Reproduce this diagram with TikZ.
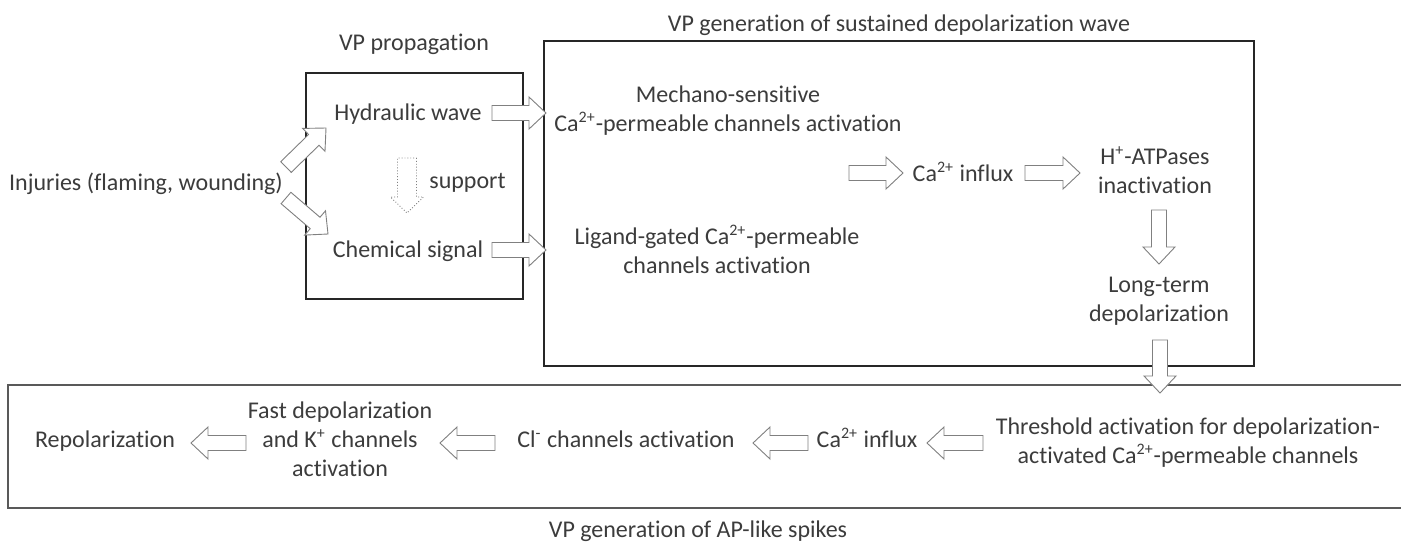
\documentclass[tikz,border=0pt]{standalone}
\usepackage{fontspec}
\setmainfont{Carlito}[Ligatures={NoCommon}]
\usetikzlibrary{calc}
\definecolor{txtgray}{RGB}{60,60,60}
\definecolor{arrgray}{RGB}{128,128,128}

% block arrow sizes (half shaft, half head, head length)
\newcommand{\arrshaft}{3.75pt}
\newcommand{\arrhead}{8pt}
\newcommand{\arrtip}{8.5pt}
% hollow block arrow from #2 (tail) to #3 (tip)
\newcommand{\fatarrow}[3][]{%
  \coordinate (fa-base) at ($(#3)!\arrtip!(#2)$);
  \draw[blockarrow,#1] ($(#2)!\arrshaft!90:(#3)$) -- ($(fa-base)!\arrshaft!-90:(#2)$)
    -- ($(fa-base)!\arrhead!-90:(#2)$) -- (#3) -- ($(fa-base)!\arrhead!90:(#2)$)
    -- ($(fa-base)!\arrshaft!90:(#2)$) -- ($(#2)!\arrshaft!-90:(#3)$) -- cycle;
}

\begin{document}
\begin{tikzpicture}[x=0.5pt, y=-0.5pt,
    font=\fontsize{12pt}{14.5pt}\selectfont,
    lbl/.style={inner sep=0pt, align=center, text=txtgray, anchor=base},
    stagebox/.style={draw=black!85, line width=0.6pt},
    spikebox/.style={draw=black!65, line width=1pt},
    blockarrow/.style={draw=arrgray, line width=0.45pt, fill=white, line join=miter},
    supportarrow/.style={densely dotted, draw=arrgray}]

    \useasboundingbox[fill=white] (0,0) rectangle (1401,542);

    % Stage boxes
    \draw[stagebox] (306,73) rectangle (523,299);
    \draw[stagebox] (544,41) rectangle (1254,366);
    \draw[spikebox] (1401,385) -- (8,385) -- (8,508) -- (1401,508);

    % Titles
    \node[lbl] (t-prop) at (414,50) {VP propagation};
    \node[lbl] (t-wave) at (899,31) {VP generation of sustained depolarization wave};
    \node[lbl] (t-spike) at (698,537) {VP generation of AP-like spikes};

    % Propagation (base = last line)
    \node[lbl] (inj) at (146,190) {Injuries (flaming, wounding)};
    \node[lbl] (hyd) at (408,120) {Hydraulic wave};
    \node[lbl] (chem) at (408,257) {Chemical signal};
    \node[lbl, anchor=base west] (sup) at (429,188) {support};

    % Sustained depolarization wave
    \node[lbl] (mech) at (728,131) {Mechano-sensitive\\Ca\textsuperscript{2+}-permeable channels activation};
    \node[lbl] (lig) at (717,273) {Ligand-gated Ca\textsuperscript{2+}-permeable\\channels activation};
    \node[lbl] (ca-a) at (963,181) {Ca\textsuperscript{2+} influx};
    \node[lbl] (hatp) at (1155,193) {H\textsuperscript{+}-ATPases\\inactivation};
    \node[lbl] (ltd) at (1159,321) {Long-term\\depolarization};

    % AP-like spikes
    \node[lbl] (thr) at (1188,463) {Threshold activation for depolarization-\\activated Ca\textsuperscript{2+}-permeable channels};
    \node[lbl] (ca-b) at (867,447) {Ca\textsuperscript{2+} influx};
    \node[lbl] (cl) at (626,447) {Cl\textsuperscript{-} channels activation};
    \node[lbl] (fast) at (340,476) {Fast depolarization\\and K\textsuperscript{+} channels\\activation};
    \node[lbl] (repol) at (105,447) {Repolarization};

    % Arrow ends
    \coordinate (inj-a) at (286,167);   \coordinate (inj-b) at (326,128);
    \coordinate (inj-c) at (286,198);   \coordinate (inj-d) at (328,234);
    \coordinate (hyd-a) at (492,113);   \coordinate (hyd-b) at (546,113);
    \coordinate (chem-a) at (492,250);  \coordinate (chem-b) at (546,250);
    \coordinate (sup-a) at (407,158);   \coordinate (sup-b) at (407,213);
    \coordinate (ch-a) at (849,173);    \coordinate (ch-b) at (903,173);
    \coordinate (ca-a1) at (1025,173);  \coordinate (ca-a2) at (1080,173);
    \coordinate (hatp-a) at (1159,210); \coordinate (hatp-b) at (1159,264);
    \coordinate (ltd-a) at (1160,340);  \coordinate (ltd-b) at (1160,393);
    \coordinate (thr-a) at (983,443);   \coordinate (thr-b) at (927,443);
    \coordinate (ca-b1) at (808,443);   \coordinate (ca-b2) at (753,443);
    \coordinate (cl-a) at (495,443);    \coordinate (cl-b) at (440,443);
    \coordinate (fast-a) at (246,443);  \coordinate (fast-b) at (191,443);

    \fatarrow{inj-a}{inj-b}
    \fatarrow{inj-c}{inj-d}
    \fatarrow{hyd-a}{hyd-b}
    \fatarrow{chem-a}{chem-b}
    {\renewcommand{\arrshaft}{4.75pt}\renewcommand{\arrhead}{8.25pt}\renewcommand{\arrtip}{8pt}%
    \fatarrow[supportarrow]{sup-a}{sup-b}}
    \fatarrow{ch-a}{ch-b}
    \fatarrow{ca-a1}{ca-a2}
    \fatarrow{hatp-a}{hatp-b}
    \fatarrow{ltd-a}{ltd-b}
    \fatarrow{thr-a}{thr-b}
    \fatarrow{ca-b1}{ca-b2}
    \fatarrow{cl-a}{cl-b}
    \fatarrow{fast-a}{fast-b}
\end{tikzpicture}
\end{document}
